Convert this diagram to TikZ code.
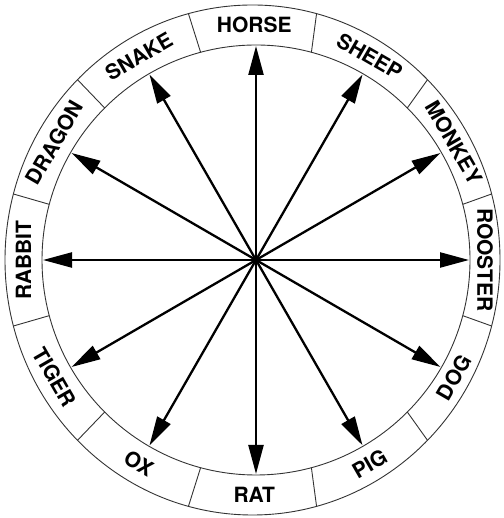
\documentclass[tikz,border=0pt]{standalone}
\usepackage{fontspec}
\setmainfont{TeX Gyre Heros}
\usetikzlibrary{arrows.meta,calc}
\begin{document}
\begin{tikzpicture}[x=1pt,y=1pt,
  ringline/.style={line width=0.9pt,draw=black!80},
  spoke/.style={line width=2.3pt,draw=black,-{Triangle[length=29pt,width=15pt]}},
  lbl/.style={font=\fontsize{21}{24}\selectfont\bfseries,inner sep=0pt,text=black}]
\useasboundingbox (0,0) rectangle (503,518);
\coordinate (ci) at (256,258);
\coordinate (co) at (252.5,258);
\coordinate (cm) at (254.25,258);
\draw[ringline] (co) ellipse [x radius=247.5, y radius=255];
\draw[ringline] (ci) ellipse [x radius=214, y radius=215];
\foreach \a [count=\i] in {15,45,...,345}{
  \coordinate (di\i) at ($(ci)+(\a:214 and 215)$);
  \coordinate (do\i) at ($(co)+(\a:247.5 and 255)$);
  \draw[ringline] (di\i) -- (do\i);
}
\foreach \a/\name/\r [count=\i] in {90/HORSE/0,60/SHEEP/-30,30/MONKEY/-60,0/ROOSTER/-90,
  -30/DOG/60,-60/PIG/30,-90/RAT/0,-120/OX/-30,-150/TIGER/-60,180/RABBIT/90,
  150/DRAGON/60,120/SNAKE/30}{
  \coordinate (t\i) at ($(ci)+(\a:213 and 214)$);
  \draw[spoke] (ci) -- (t\i);
  \node[lbl,rotate=\r] (l\i) at ($(cm)+(\a:230.75 and 235)$) {\name};
}
\end{tikzpicture}
\end{document}
